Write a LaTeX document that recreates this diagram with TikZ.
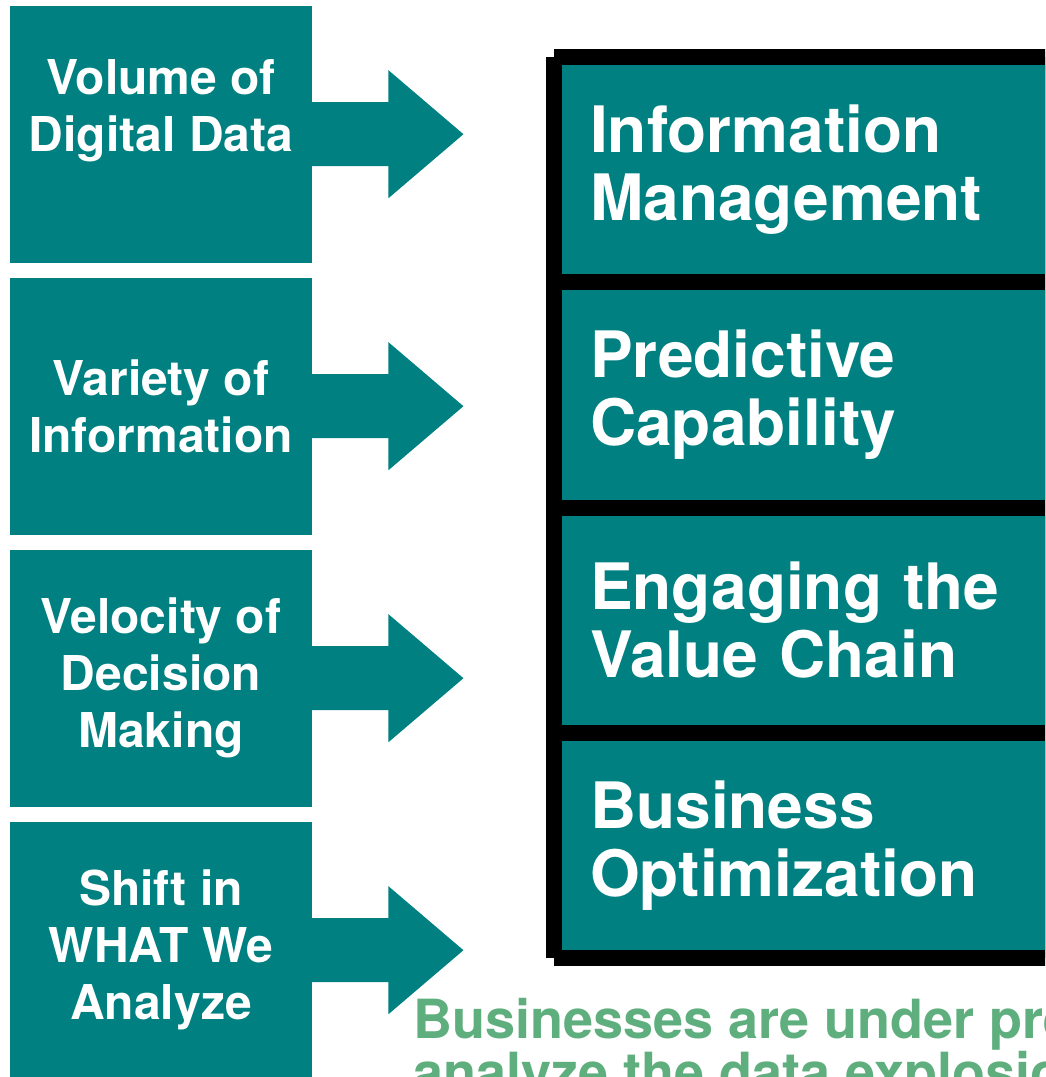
\documentclass[tikz,border=0pt]{standalone}
\usepackage{fontspec}
\setmainfont{TeX Gyre Heros}
\usepackage{xcolor}
\usepackage{tikz}
\usetikzlibrary{positioning}
\definecolor{tealbox}{RGB}{0,128,128}
\definecolor{notegreen}{RGB}{95,174,126}

\begin{document}
\begin{tikzpicture}[x=1pt,y=-1pt,
	lbox/.style={rectangle,fill=tealbox,text=white,font={\fontsize{48}{57}\selectfont\bfseries},align=center,minimum width=302.5pt,minimum height=257pt,inner sep=0pt},
	rbox/.style={rectangle,fill=tealbox,text=white,font={\fontsize{64}{68}\selectfont\bfseries},align=left,text width=482pt,minimum height=209.25pt,inner xsep=28pt,inner ysep=0pt,anchor=north west},
	arr/.style={fill=tealbox}]
	\useasboundingbox (0,0) rectangle (1045,1077);
	\clip (0,0) rectangle (1045,1077);
	
	% black frame behind the right column
	\fill[black] (554,49) rectangle (1100,966);
	\fill[black] (546,57) rectangle (1100,958);
	
	\foreach \i/\name in {1/{Information\\Management},2/{Predictive\\Capability},3/{Engaging the\\Value Chain},4/{Business\\Optimization}}{
		\node[rbox] (r\i) at (562,{65+225.25*(\i-1)}) {\name};
	}
	
	\foreach \i/\name in {1/{Volume of\\Digital Data\\\mbox{}},2/{Variety of\\Information},3/{Velocity of\\Decision\\Making},4/{Shift in\\WHAT We\\Analyze}}{
		\node[lbox] (l\i) at (161,{134.2+272*(\i-1)}) {\name};
	}
	
	\foreach \i in {1,2,3,4}{
		\fill[arr] (l\i.east) ++(-1,-32) -- ++(77,0) -- ++(0,-32) -- ++(75,64) -- ++(-75,64) -- ++(0,-32) -- ++(-77,0) -- cycle;}
	
	\node[anchor=north west,inner sep=0pt,text=notegreen,align=left,font={\fontsize{54}{53}\selectfont\bfseries}] 
	(note) at (413,998) {Businesses are under pressure to\\analyze the data explosion};
\end{tikzpicture}
\end{document}
